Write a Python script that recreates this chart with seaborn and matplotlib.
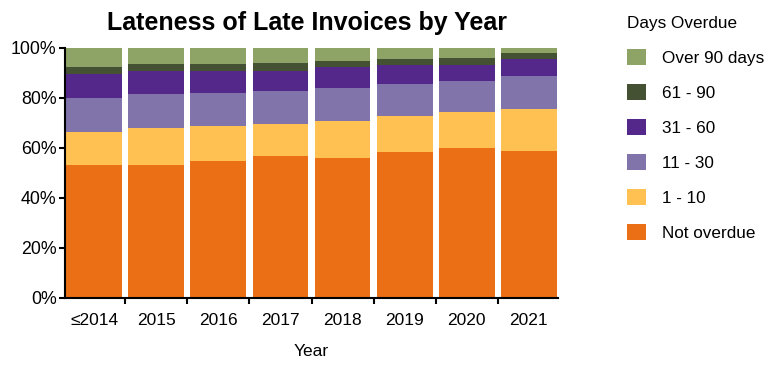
import matplotlib
matplotlib.use("Agg")
import matplotlib.pyplot as plt
from matplotlib.patches import Patch
from matplotlib.ticker import FixedLocator, PercentFormatter
import seaborn as sns
import pandas as pd
import numpy as np

years = ["≤2014", "2015", "2016", "2017", "2018", "2019", "2020", "2021"]
categories = ["Not overdue", "1 - 10", "11 - 30", "31 - 60", "61 - 90", "Over 90 days"]
not_overdue = [53.1, 53.1, 54.7, 56.8, 56.0, 58.4, 60.0, 58.8]
d1_10 = [13.4, 15.0, 14.2, 12.9, 14.9, 14.5, 14.5, 17.0]
d11_30 = [13.7, 13.7, 13.3, 12.9, 13.3, 12.6, 12.2, 12.9]
d31_60 = [9.4, 8.9, 8.5, 8.1, 8.1, 7.6, 6.4, 6.9]
d61_90 = [2.7, 2.8, 2.8, 3.2, 2.4, 2.5, 2.9, 2.4]
over_90 = [7.7, 6.5, 6.5, 6.1, 5.3, 4.4, 4.0, 2.0]
colors = ["#EB6F14", "#FEC152", "#8074AB", "#54278A", "#445133", "#8DA466"]

series = [not_overdue, d1_10, d11_30, d31_60, d61_90, over_90]
cum = np.cumsum(np.array(series), axis=0)

plt.rcParams['font.family'] = ['Liberation Sans', 'DejaVu Sans']
fig = plt.figure(figsize=(7.66, 3.65), dpi=100)
ax = fig.add_axes([65/766, 1-298/365, (558-65)/766, 250/365])

for i in range(len(categories)-1, -1, -1):
    df = pd.DataFrame({"Year": years, "value": cum[i]})
    sns.barplot(data=df, x="Year", y="value", color=colors[i], width=0.9,
                saturation=1, ax=ax, linewidth=0, order=years)

ax.set_xlim(-0.47, 7.47)
ax.set_ylim(0, 100)
ax.yaxis.set_major_locator(FixedLocator([0, 20, 40, 60, 80, 100]))
ax.yaxis.set_major_formatter(PercentFormatter(decimals=0))
ax.set_xticks(range(len(years)))
ax.set_xticklabels(years)
ax.xaxis.set_minor_locator(FixedLocator([i + 0.5 for i in range(len(years)-1)]))
ax.tick_params(axis='x', which='major', length=0, labelsize=12.5, pad=11)
ax.tick_params(axis='x', which='minor', length=4, width=1.5)
ax.tick_params(axis='y', length=4, width=1.5, labelsize=12.8, pad=2)
for s in ["top", "right"]:
    ax.spines[s].set_visible(False)
for s in ["left", "bottom"]:
    ax.spines[s].set_linewidth(1.5)
ax.set_ylabel("")
ax.set_xlabel("Year", fontsize=12.5, labelpad=11)
ax.set_title("Lateness of Late Invoices by Year", fontsize=18, fontweight="bold", pad=13, x=0.49)

handles = [Patch(facecolor=colors[i], edgecolor='none', label=categories[i])
           for i in range(len(categories)-1, -1, -1)]
leg = fig.legend(handles=handles, title="Days Overdue", loc="upper left",
                 bbox_to_anchor=(620/766, 1-9/365), frameon=False, fontsize=12.3,
                 title_fontsize=12.3, handlelength=1.1, handleheight=1.1,
                 labelspacing=1.055, handletextpad=0.95, borderaxespad=0)
leg._legend_box.align = "left"

fig.savefig("out.png", dpi=100)
